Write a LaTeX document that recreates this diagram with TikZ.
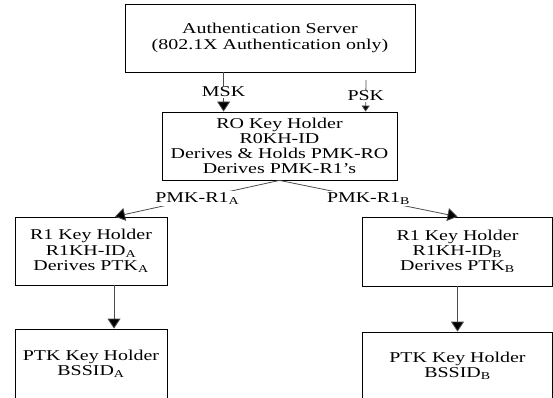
\documentclass[tikz,border=0pt]{standalone}
\usepackage{fontspec}
\setmainfont[FakeStretch=1.33]{Liberation Serif}
\usetikzlibrary{arrows.meta,calc}

\tikzset{
  keybox/.style={draw=black, line width=0.8pt, align=center, inner sep=0pt,
    font=\fontsize{15}{15.2}\selectfont},
  keylabel/.style={fill=white, inner sep=1pt, font=\fontsize{15}{15}\selectfont},
  keyline/.style={draw=black!70, line width=0.8pt, -{Triangle[width=13pt,length=10pt,fill=black]}},
  pskline/.style={draw=black!70, line width=0.8pt, -{Triangle[width=8pt,length=6pt,fill=black]}}
}

\begin{document}
\begin{tikzpicture}[x=1pt,y=-1pt]
    \useasboundingbox (0,0) rectangle (553,398);

    % boxes
    \node[keybox, minimum width=290pt, minimum height=68pt] (auth) at (270,38)
      {Authentication Server\\(802.1X Authentication only)};
    \node[keybox, minimum width=235pt, minimum height=68pt] (r0) at (279.5,146)
      {RO Key Holder\\R0KH-ID\\Derives \& Holds PMK-RO\\Derives PMK-R1's};
    \node[keybox, minimum width=152pt, minimum height=68pt] (r1a) at (91,251)
      {R1 Key Holder\\R1KH-ID\textsubscript{A}\\Derives PTK\textsubscript{A}};
    \node[keybox, minimum width=190pt, minimum height=69pt] (r1b) at (457.5,251.5)
      {R1 Key Holder\\R1KH-ID\textsubscript{B}\\Derives PTK\textsubscript{B}};
    \node[keybox, minimum width=152pt, minimum height=69pt] (ptka) at (91,363.5)
      {PTK Key Holder\\BSSID\textsubscript{A}};
    \node[keybox, minimum width=190pt, minimum height=68pt] (ptkb) at (457.5,366)
      {PTK Key Holder\\BSSID\textsubscript{B}};

    \coordinate (psk) at (366,80);

    % key flows
    \draw[keyline] ($(auth.south west)+(99,0)$) -- node[keylabel] {MSK} ($(r0.north west)+(62,0)$);
    \draw[pskline] (psk) -- node[keylabel] {PSK} ($(r0.north west)+(204,0)$);
    \draw[keyline] (r0.south) -- node[keylabel] {PMK-R1\textsubscript{A}} ($(r1a.north)+(24,0)$);
    \draw[keyline] (r0.south) -- node[keylabel] {PMK-R1\textsubscript{B}} (r1b.north);
    \draw[keyline] ($(r1a.south)+(23,0)$) -- ($(ptka.north)+(23,0)$);
    \draw[keyline] (r1b.south) -- (ptkb.north);

\end{tikzpicture}
\end{document}
